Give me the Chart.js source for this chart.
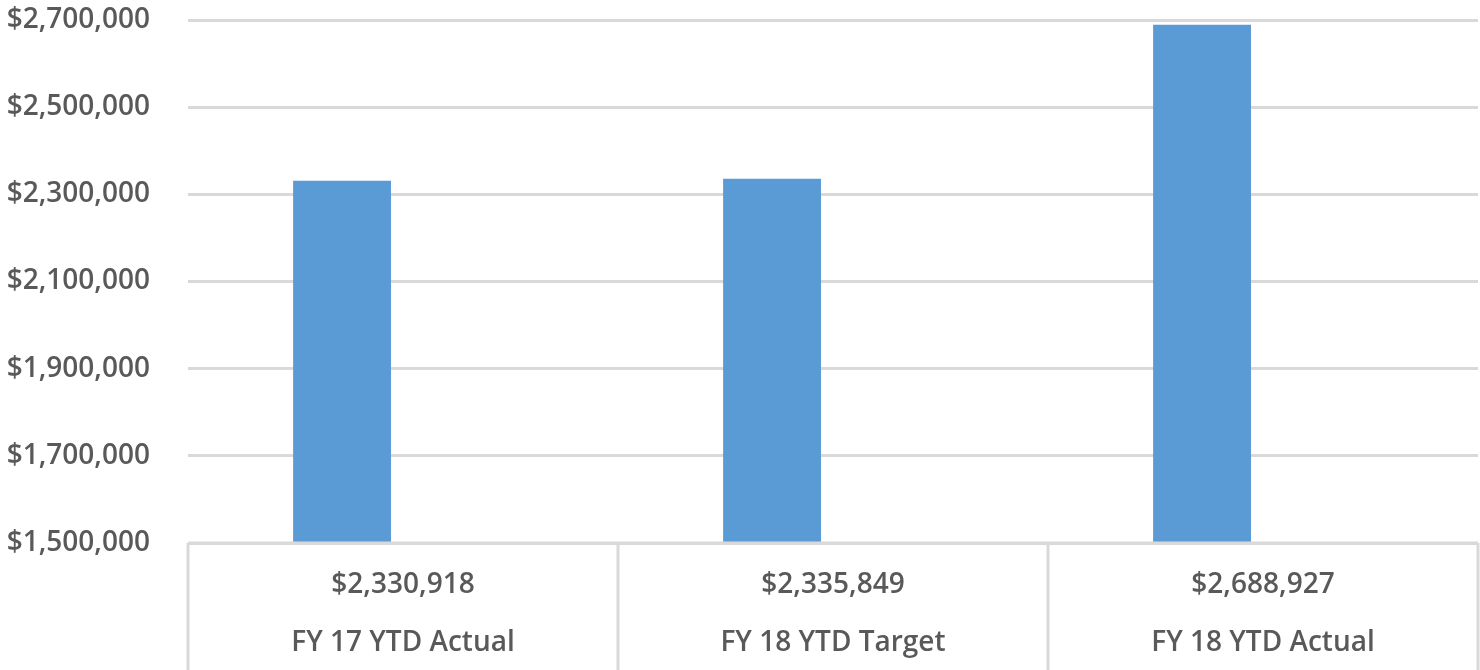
<!DOCTYPE html>
<html>
<head>
<meta charset="utf-8">
<script src="https://cdn.jsdelivr.net/npm/chart.js@4.4.1/dist/chart.umd.min.js"></script>
<style>
  html, body { margin: 0; padding: 0; background: #fff; }
  #wrap { width: 1480px; height: 670px; }
</style>
</head>
<body>
<div id="wrap"><canvas id="ytdChart"></canvas></div>
<script>
const categories = ['FY 17 YTD Actual', 'FY 18 YTD Target', 'FY 18 YTD Actual'];
const revenue = [2330918, 2335849, 2688927];
// second slot of each group is left empty, as in the source workbook
const emptySlot = [null, null, null];
const yMin = 1500000;
const yMax = 2700000;
const yStep = 200000;

const textColor = '#595959';
const lineColor = '#d9d9d9';
const fontFamily = '"Open Sans", "Noto Sans", sans-serif';

const money = v => '$' + v.toLocaleString('en-US');

// data table under the plot: borders follow the x scale's categories
const dataTable = {
  id: 'dataTable',
  afterDraw(chart) {
    const { ctx, chartArea, scales: { x } } = chart;
    const half = (x.getPixelForValue(1) - x.getPixelForValue(0)) / 2;
    const bottom = chart.height;
    ctx.save();
    ctx.strokeStyle = lineColor;
    ctx.lineWidth = 3;
    ctx.beginPath();
    ctx.moveTo(chartArea.left, chartArea.bottom);
    ctx.lineTo(chartArea.right, chartArea.bottom);
    for (let i = 0; i <= categories.length; i++) {
      const px = Math.round(x.getPixelForValue(i) - half);
      ctx.moveTo(px, chartArea.bottom);
      ctx.lineTo(px, bottom);
    }
    ctx.stroke();

    ctx.fillStyle = textColor;
    ctx.textAlign = 'center';
    ctx.textBaseline = 'middle';
    ctx.font = '600 28px ' + fontFamily;
    categories.forEach((name, i) => {
      const cx = x.getPixelForValue(i);
      ctx.fillText(money(revenue[i]), cx, chartArea.bottom + 42);
      ctx.fillText(name, cx, chartArea.bottom + 100);
    });
    ctx.restore();
  }
};

new Chart(document.getElementById('ytdChart'), {
  type: 'bar',
  data: {
    labels: categories,
    datasets: [{
      data: revenue,
      backgroundColor: '#5b9bd5',
      categoryPercentage: 0.567,
      barPercentage: 0.803
    }, {
      data: emptySlot,
      backgroundColor: '#ed7d31',
      categoryPercentage: 0.567,
      barPercentage: 0.803
    }]
  },
  options: {
    responsive: true,
    maintainAspectRatio: false,
    animation: false,
    layout: { padding: { top: 0, left: 4, right: 2, bottom: 127 } },
    plugins: {
      legend: { display: false },
      tooltip: { enabled: false }
    },
    scales: {
      x: {
        display: false
      },
      y: {
        min: yMin,
        max: yMax,
        border: { display: false },
        grid: { color: lineColor, lineWidth: 3, drawTicks: false },
        ticks: {
          stepSize: yStep,
          padding: 38,
          color: textColor,
          font: { family: fontFamily, size: 28, weight: '600' },
          callback: v => money(v)
        },
        // fixed label column, top label tight to the canvas edge
        afterFit: scale => {
          scale.width = 184;
          scale.paddingTop = 20;
          scale.paddingBottom = 0;
        }
      }
    }
  },
  plugins: [dataTable]
});
</script>
</body>
</html>
